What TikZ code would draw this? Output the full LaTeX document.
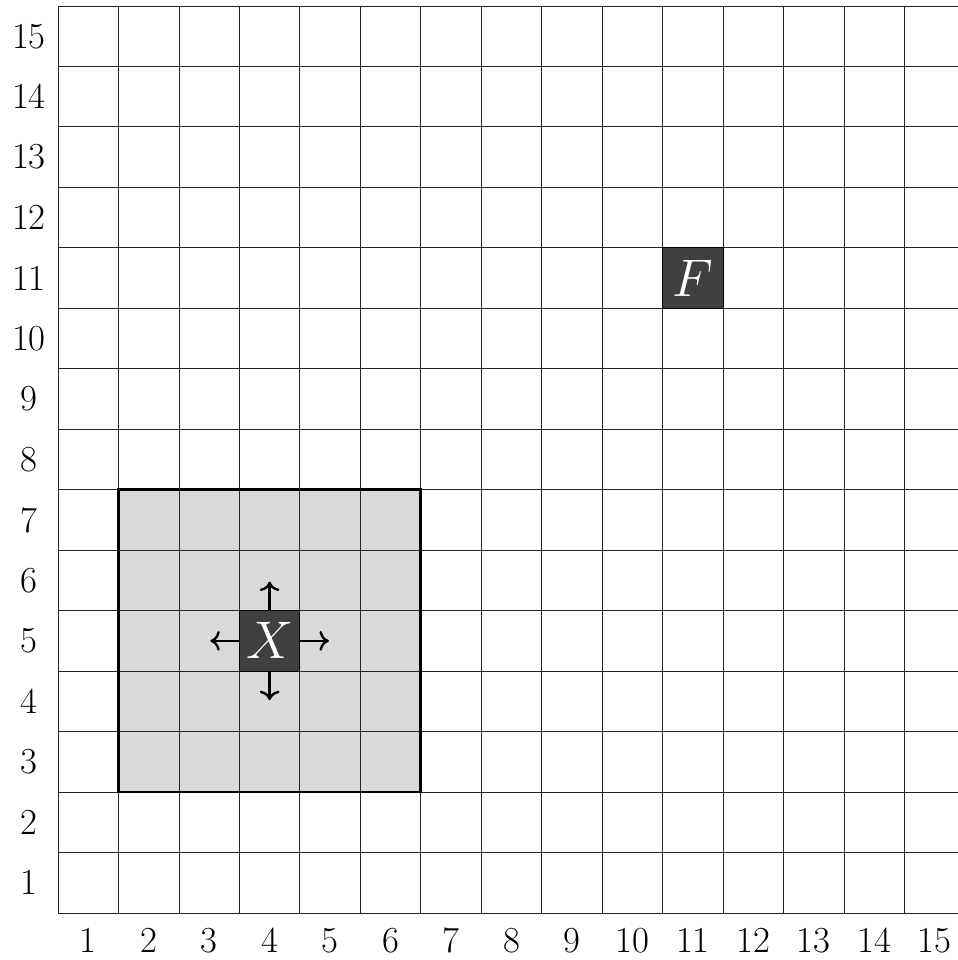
\documentclass[tikz,border=0pt]{standalone}
\usetikzlibrary{arrows.meta}
\begin{document}
\begin{tikzpicture}[x=1cm,y=1cm,
  gridline/.style={draw=black!85,line width=0.4pt},
  regionbox/.style={draw=black,line width=1.3pt,fill=black!15},
  agentbox/.style={fill=black!75,draw=black,line width=0.4pt,minimum size=1cm,inner sep=0pt,text=white,font=\fontsize{29}{30}\selectfont},
  axlabel/.style={font=\LARGE,inner sep=0pt},
  movearrow/.style={-{To[scale=1.1]},line width=1.1pt}]
\useasboundingbox[clip] (-0.959,-0.777) rectangle (14.88,15.099);
\fill[black!15] (1,2) rectangle (6,7);
\foreach \i in {0,...,15} {
  \draw[gridline] (\i,0) -- (\i,15);
  \draw[gridline] (0,\i) -- (15,\i);
}
\draw[regionbox,fill=none] (1,2) rectangle (6,7);
\foreach \i in {1,...,15} {
  \node[axlabel] (row\i) at (-0.48,\i-0.5) {\i};
  \node[axlabel] (col\i) at (\i-0.5,-0.45) {\i};
}
\node[agentbox] (X) at (3.5,4.5) {$X$};
\node[agentbox] (F) at (10.5,10.5) {$F$};
\coordinate (up) at (3.5,5.48);
\coordinate (down) at (3.5,3.52);
\coordinate (left) at (2.52,4.5);
\coordinate (right) at (4.48,4.5);
\draw[movearrow] (X.north) -- (up);
\draw[movearrow] (X.south) -- (down);
\draw[movearrow] (X.west) -- (left);
\draw[movearrow] (X.east) -- (right);
\end{tikzpicture}
\end{document}
